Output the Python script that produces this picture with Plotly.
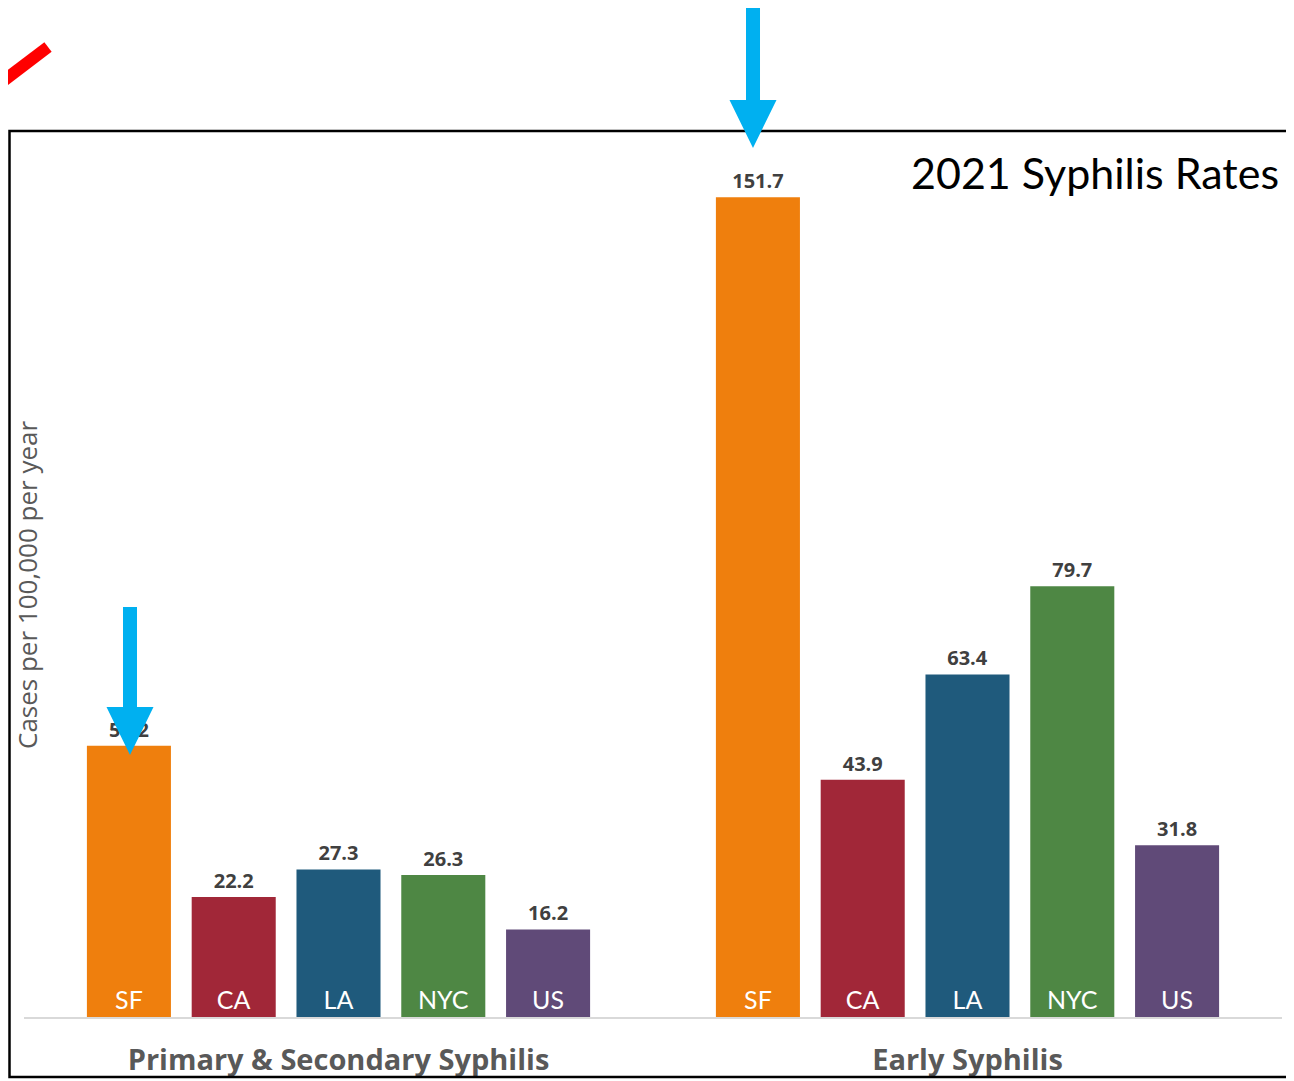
import plotly.graph_objects as go

# ---- data ----
groups = ["Primary & Secondary Syphilis", "Early Syphilis"]
states = ["SF", "CA", "LA", "NYC", "US"]
ps_rates = [50.2, 22.2, 27.3, 26.3, 16.2]
early_rates = [151.7, 43.9, 63.4, 79.7, 31.8]
colors = ["#EF7F0D", "#A12738", "#1F5A7C", "#4E8744", "#604A78"]
title_text = "2021 Syphilis Rates"
y_title = "Cases per 100,000 per year"

# ---- layout geometry (screen coords; page body adds an 8px offset) ----
OFF = 8
W, H = 1294, 1081
PLOT_L, PLOT_R, PLOT_T, PLOT_B = 24, 1282, 140, 1017
L = PLOT_L - OFF
R = W - (PLOT_R - OFF)
T = PLOT_T - OFF
B = H - (PLOT_B - OFF)
PW, PH = PLOT_R - PLOT_L, PLOT_B - PLOT_T
Y_MAX = 162.3


def px(x):
    return (x - PLOT_L) / PW


def py(y):
    return (PLOT_B - y) / PH


fig = go.Figure()
for i, s in enumerate(states):
    vals = [ps_rates[i], early_rates[i]]
    fig.add_trace(go.Bar(
        x=groups, y=vals, name=s, offsetgroup=s,
        marker=dict(color=colors[i], line=dict(width=0)),
        text=[f"{v:.1f}" for v in vals], textposition="outside",
        textangle=0, constraintext="none", cliponaxis=False,
        textfont=dict(family="Open Sans", size=20, color="#404040", weight="bold"),
        showlegend=False,
    ))
    fig.add_trace(go.Bar(
        x=groups, y=vals, name=s + " label", offsetgroup=s,
        marker=dict(color="rgba(0,0,0,0)", line=dict(width=0)),
        text=[s, s], textposition="inside", insidetextanchor="start",
        textangle=0, constraintext="none",
        textfont=dict(family="Lato", size=25, color="white"),
        showlegend=False, hoverinfo="skip",
    ))

shapes = []
# border (left edge kept just inside the visible page)
shapes.append(dict(type="rect", xref="paper", yref="paper",
                   x0=px(9.5), x1=px(1310), y0=py(1077), y1=py(131),
                   line=dict(color="black", width=2.5), layer="above"))
# red line
shapes.append(dict(type="line", xref="paper", yref="paper",
                   x0=px(-6), y0=py(88), x1=px(48), y1=py(47),
                   line=dict(color="#FF0000", width=12), layer="above"))


def arrow(cx, y_top, y_head, y_tip, shaft=14, head=47):
    pts = [(cx - shaft / 2, y_top), (cx + shaft / 2, y_top), (cx + shaft / 2, y_head),
           (cx + head / 2, y_head), (cx, y_tip), (cx - head / 2, y_head),
           (cx - shaft / 2, y_head)]
    path = "M " + " L ".join(f"{px(a):.5f},{py(b):.5f}" for a, b in pts) + " Z"
    return dict(type="path", xref="paper", yref="paper", path=path,
                fillcolor="#00B0F0", line=dict(width=0), layer="above")


shapes.append(arrow(753, 4, 100, 148))
shapes.append(arrow(130, 607, 707, 755))

fig.update_layout(
    width=W, height=H,
    margin=dict(l=L, r=R, t=T, b=B, pad=0, autoexpand=False),
    paper_bgcolor="white", plot_bgcolor="white",
    barmode="group", bargap=0.167, bargroupgap=0.198,
    shapes=shapes,
    xaxis=dict(showline=True, linecolor="#D9D9D9", linewidth=1.5,
               showgrid=False, ticks="", ticklabelstandoff=16, automargin=False,
               tickfont=dict(family="Open Sans", size=29, color="#595959", weight="bold"),
               fixedrange=True),
    yaxis=dict(range=[0, Y_MAX], showgrid=False, zeroline=False, showline=False,
               showticklabels=False, ticks="", fixedrange=True, automargin=False),
    annotations=[
        dict(text=title_text, xref="paper", yref="paper", x=px(1281), y=py(172),
             xanchor="right", yanchor="middle", showarrow=False,
             font=dict(family="Lato", size=43, color="black")),
        dict(text=y_title, xref="paper", yref="paper", x=px(27), y=py(585),
             xanchor="center", yanchor="middle", textangle=-90, showarrow=False,
             font=dict(family="Open Sans", size=26, color="#595959")),
    ],
)

fig.write_html("out.html")
